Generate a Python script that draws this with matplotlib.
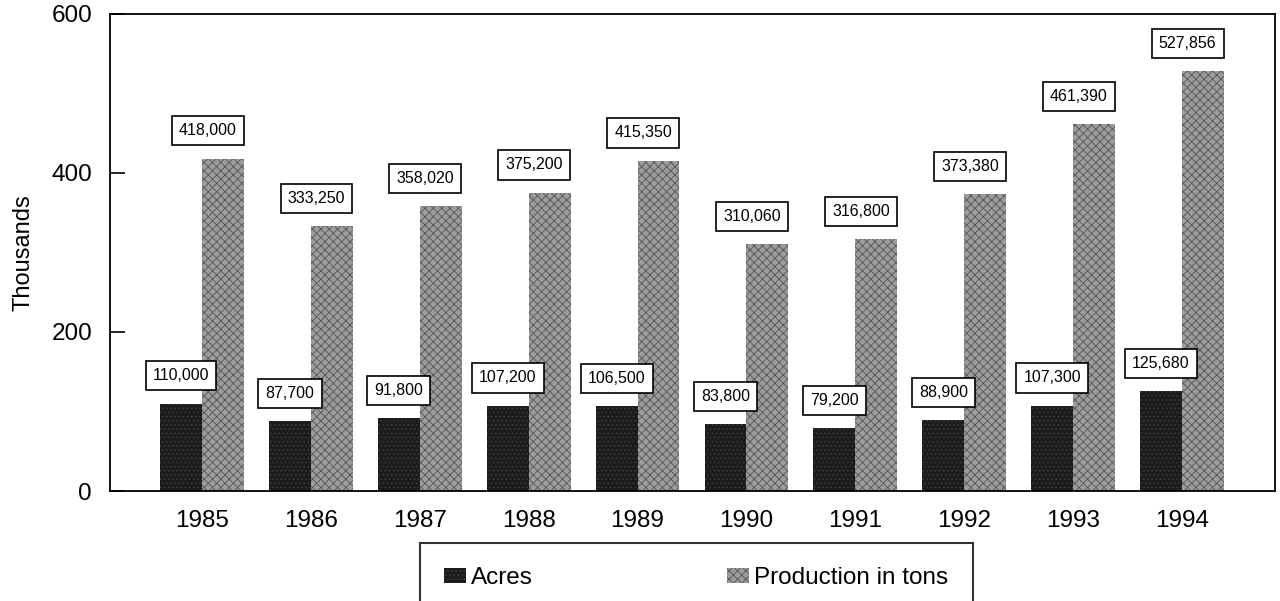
import matplotlib.pyplot as plt
import numpy as np

plt.rcParams['font.family'] = ['Liberation Sans', 'DejaVu Sans']
plt.rcParams['hatch.linewidth'] = 0.6

years = ['1985', '1986', '1987', '1988', '1989', '1990', '1991', '1992', '1993', '1994']
acres = [110000, 87700, 91800, 107200, 106500, 83800, 79200, 88900, 107300, 125680]
production = [418000, 333250, 358020, 375200, 415350, 310060, 316800, 373380, 461390, 527856]

x = np.arange(len(years))
w = 0.385
acres_k = np.array(acres) / 1000
prod_k = np.array(production) / 1000

fig = plt.figure(figsize=(12.8, 6.01), dpi=100)
ax = fig.add_axes([0.086, 0.183, 0.910, 0.794])

b1 = ax.bar(x - w / 2, acres_k, w, color='#1c1c1c', edgecolor='#3c3c3c',
            hatch='....', linewidth=0, label='Acres')
b2 = ax.bar(x + w / 2, prod_k, w, color='#9c9c9c', edgecolor='#555555',
            hatch='xxxx', linewidth=0, label='Production in tons')

box = dict(boxstyle='square,pad=0.45', fc='white', ec='black', lw=1.2)
for xi, v, raw in zip(x, acres_k, acres):
    ax.annotate(f'{raw:,}', (xi - w / 2, v), xytext=(0, 20), textcoords='offset points',
                ha='center', va='center', fontsize=11.5, bbox=box)
for xi, v, raw in zip(x, prod_k, production):
    ax.annotate(f'{raw:,}', (xi + w / 2, v), xytext=(-11, 20), textcoords='offset points',
                ha='center', va='center', fontsize=11.5, bbox=box)

ax.set_xlim(-0.844, 9.853)
ax.set_ylim(0, 600)
ax.set_yticks([0, 200, 400, 600])
ax.set_xticks(x)
ax.set_xticklabels(years)
ax.tick_params(axis='x', length=0, pad=14, labelsize=17.5)
ax.tick_params(axis='y', direction='in', length=11, width=1.2, pad=13, labelsize=17.5)
ax.set_ylabel('Thousands', fontsize=17, labelpad=12)
for s in ax.spines.values():
    s.set_linewidth(1.3)
    s.set_color('black')

leg = fig.legend(handles=[b1, b2], loc='upper left', bbox_to_anchor=(420 / 1280, 1 - 543 / 601),
                 ncol=2, fontsize=17.5, frameon=True, fancybox=False, borderpad=1.0,
                 borderaxespad=0, columnspacing=8.0, handlelength=0.9, handleheight=0.6,
                 handletextpad=0.2)
leg.get_frame().set_edgecolor('black')
leg.get_frame().set_linewidth(1.5)

fig.savefig('out.png', dpi=100)
